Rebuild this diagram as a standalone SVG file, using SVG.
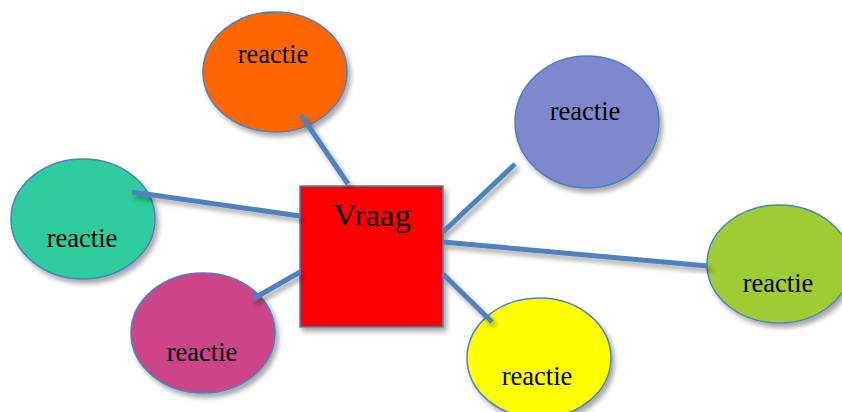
<svg xmlns="http://www.w3.org/2000/svg" width="842" height="412" viewBox="0 0 842 412">
<defs>
<filter id="sh" x="-20%" y="-20%" width="150%" height="150%">
<feGaussianBlur in="SourceAlpha" stdDeviation="2.5"/>
<feOffset dx="3" dy="4" result="b"/>
<feComponentTransfer><feFuncA type="linear" slope="0.35"/></feComponentTransfer>
<feMerge><feMergeNode/><feMergeNode in="SourceGraphic"/></feMerge>
</filter>
<style>
.n{stroke:#4F81BD;stroke-width:1.5;filter:url(#sh)}
.c{stroke:#4F81BD;stroke-width:5;fill:none;filter:url(#sh)}
.t{font-family:"Liberation Serif","Times New Roman",serif;font-size:26.5px;fill:#000;text-anchor:middle}
.v{font-size:32.5px}
</style>
</defs>
<rect width="842" height="412" fill="#fff"/>
<g id="vraag">
<rect class="n" x="300" y="186" width="143" height="141" fill="#FF0000"/>
<text class="t v" x="372" y="226">Vraag</text>
</g>
<g id="reactie-orange">
<ellipse class="n" cx="275" cy="72" rx="72" ry="60" fill="#FF6600"/>
<text class="t" x="273" y="63">reactie</text>
</g>
<g id="reactie-green">
<ellipse class="n" cx="83" cy="219" rx="72" ry="60" fill="#2ECC9E"/>
<text class="t" x="82" y="247">reactie</text>
</g>
<g id="reactie-magenta">
<ellipse class="n" cx="203" cy="333" rx="72" ry="60" fill="#CC4489"/>
<text class="t" x="202" y="361">reactie</text>
</g>
<g id="reactie-purple">
<ellipse class="n" cx="587" cy="122" rx="72" ry="66" fill="#7F88CC"/>
<text class="t" x="585" y="120">reactie</text>
</g>
<g id="reactie-lime">
<ellipse class="n" cx="779" cy="264" rx="72" ry="59" fill="#9ECC33"/>
<text class="t" x="778" y="292">reactie</text>
</g>
<g id="reactie-yellow">
<ellipse class="n" cx="539" cy="358" rx="72" ry="60" fill="#FFFF00"/>
<text class="t" x="537" y="385">reactie</text>
</g>
<g id="connectors">
<line class="c" x1="301" y1="115" x2="348" y2="184"/>
<line class="c" x1="132" y1="192" x2="300" y2="216"/>
<line class="c" x1="253" y1="299" x2="300" y2="272"/>
<line class="c" x1="515" y1="164" x2="443" y2="232"/>
<line class="c" x1="443" y1="242" x2="708" y2="266"/>
<line class="c" x1="443" y1="274" x2="492" y2="322"/>
</g>
</svg>
